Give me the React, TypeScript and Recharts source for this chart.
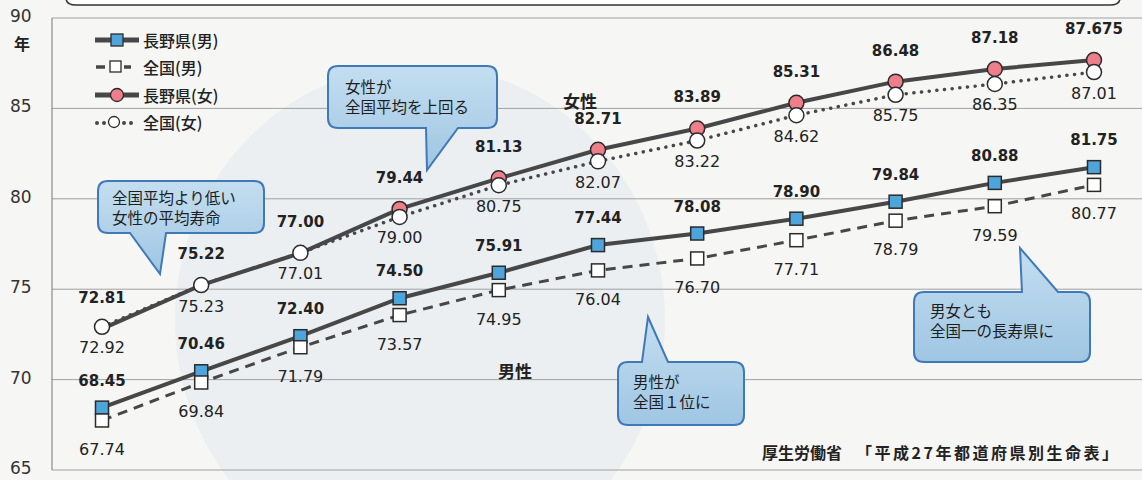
import React from 'react';
import { LineChart, Line, XAxis, YAxis, CartesianGrid, Legend, LabelList } from 'recharts';

// 都道府県別生命表 (5年ごと)
const years = ['1965', '1970', '1975', '1980', '1985', '1990', '1995', '2000', '2005', '2010', '2015'];
const naganoMale = [68.45, 70.46, 72.4, 74.5, 75.91, 77.44, 78.08, 78.9, 79.84, 80.88, 81.75];
const nationalMale = [67.74, 69.84, 71.79, 73.57, 74.95, 76.04, 76.7, 77.71, 78.79, 79.59, 80.77];
const naganoFemale = [72.81, 75.22, 77.0, 79.44, 81.13, 82.71, 83.89, 85.31, 86.48, 87.18, 87.675];
const nationalFemale = [72.92, 75.23, 77.01, 79.0, 80.75, 82.07, 83.22, 84.62, 85.75, 86.35, 87.01];
const yTicks = [65, 70, 75, 80, 85, 90];

const seriesNames = {
  naganoMale: '長野県(男)',
  nationalMale: '全国(男)',
  naganoFemale: '長野県(女)',
  nationalFemale: '全国(女)',
};
const legendOrder = ['naganoMale', 'nationalMale', 'naganoFemale', 'nationalFemale'];

const data = years.map((year, i) => ({
  year,
  naganoMale: naganoMale[i],
  nationalMale: nationalMale[i],
  naganoFemale: naganoFemale[i],
  nationalFemale: nationalFemale[i],
}));

const NUM_FONT = '"DejaVu Sans", Verdana, sans-serif';
const JP_FONT = '"Noto Sans CJK JP", "Noto Sans", sans-serif';
const LINE_DARK = '#474747';
const BLUE = '#4ea5dc';
const PINK = '#ee7f8a';

// 2桁で表示、それ以上の桁はそのまま
const fmt = (v: number) => {
  const c = v * 100;
  return Math.abs(c - Math.round(c)) < 1e-6 ? v.toFixed(2) : String(v);
};

const makeLabel = (dy: number, bold: boolean) => (props: any) => {
  const { x, y, value, index } = props;
  if (x == null || y == null) return null;
  return (
    <text
      key={`lbl-${index}`}
      x={x}
      y={y + dy}
      textAnchor="middle"
      dominantBaseline="central"
      fontFamily={NUM_FONT}
      fontSize={bold ? 15 : 16}
      fontWeight={bold ? 'bold' : 'normal'}
      fill="#222"
    >
      {fmt(value)}
    </text>
  );
};

const squareDot = (fill: string) => (props: any) => {
  const { cx, cy, index } = props;
  if (cx == null || cy == null) return <g key={`sq-${index}`} />;
  return (
    <rect key={`sq-${index}`} x={cx - 6.5} y={cy - 6.5} width={13} height={13} fill={fill} stroke="#2b2b2b" strokeWidth={1.5} />
  );
};

// 最初の3点は全国(女)の白丸に隠れている
const pinkFrom = 3;
const circleDot = (fill: string, from = 0) => (props: any) => {
  const { cx, cy, index } = props;
  if (cx == null || cy == null || index < from) return <g key={`ci-${index}`} />;
  return <circle key={`ci-${index}`} cx={cx} cy={cy} r={7.5} fill={fill} stroke="#2b2b2b" strokeWidth={1.5} />;
};

const YTick = (props: any) => {
  const { y, payload } = props;
  return (
    <text x={10} y={y - 2} dominantBaseline="central" fontFamily={NUM_FONT} fontSize={17} fill="#333">
      {payload.value}
    </text>
  );
};

const legendIcon = (key: string) => {
  if (key === 'naganoMale')
    return (
      <>
        <line x1={2} y1={10} x2={46} y2={10} stroke={LINE_DARK} strokeWidth={5} />
        <rect x={18} y={4} width={12} height={12} fill={BLUE} stroke="#2b2b2b" strokeWidth={1.3} />
      </>
    );
  if (key === 'nationalMale')
    return (
      <>
        <line x1={3} y1={10} x2={12} y2={10} stroke={LINE_DARK} strokeWidth={3.5} />
        <rect x={17} y={4} width={11} height={11} fill="#fff" stroke="#2b2b2b" strokeWidth={1.3} />
        <line x1={31} y1={10} x2={38} y2={10} stroke={LINE_DARK} strokeWidth={3.5} />
      </>
    );
  if (key === 'naganoFemale')
    return (
      <>
        <line x1={2} y1={10} x2={46} y2={10} stroke={LINE_DARK} strokeWidth={5} />
        <circle cx={24} cy={10} r={6.5} fill={PINK} stroke="#2b2b2b" strokeWidth={1.3} />
      </>
    );
  return (
    <>
      <circle cx={4} cy={11} r={2} fill={LINE_DARK} />
      <circle cx={11} cy={11} r={2} fill={LINE_DARK} />
      <circle cx={21} cy={10} r={5.5} fill="#fff" stroke="#2b2b2b" strokeWidth={1.3} />
      <circle cx={31} cy={11} r={2} fill={LINE_DARK} />
      <circle cx={38} cy={11} r={2} fill={LINE_DARK} />
    </>
  );
};

const renderLegend = (props: any) => {
  const payload = [...(props.payload || [])].sort(
    (a: any, b: any) => legendOrder.indexOf(a.dataKey) - legendOrder.indexOf(b.dataKey)
  );
  return (
    <div>
      {payload.map((entry: any) => (
        <div key={entry.dataKey} style={{ display: 'flex', alignItems: 'center', height: 27.5 }}>
          <svg width={48} height={20} style={{ marginRight: 2 }}>
            {legendIcon(entry.dataKey)}
          </svg>
          <span style={{ fontFamily: JP_FONT, fontSize: 16, fontWeight: 500, color: '#222' }}>{entry.value}</span>
        </div>
      ))}
    </div>
  );
};

// 吹き出し
const callout = (
  x: number,
  y: number,
  w: number,
  h: number,
  side: 'top' | 'bottom',
  t1: number,
  t2: number,
  tipX: number,
  tipY: number
) => {
  const r = 10;
  const b = y + h;
  const rgt = x + w;
  if (side === 'bottom') {
    return `M${x + r},${y} H${rgt - r} Q${rgt},${y} ${rgt},${y + r} V${b - r} Q${rgt},${b} ${rgt - r},${b} H${t2} L${tipX},${tipY} L${t1},${b} H${x + r} Q${x},${b} ${x},${b - r} V${y + r} Q${x},${y} ${x + r},${y} Z`;
  }
  return `M${x + r},${y} H${t1} L${tipX},${tipY} L${t2},${y} H${rgt - r} Q${rgt},${y} ${rgt},${y + r} V${b - r} Q${rgt},${b} ${rgt - r},${b} H${x + r} Q${x},${b} ${x},${b - r} V${y + r} Q${x},${y} ${x + r},${y} Z`;
};

const bubbles = [
  { d: callout(98, 181, 166, 52, 'bottom', 130, 166, 160, 274), lines: ['全国平均より低い', '女性の平均寿命'], tx: 112, ty: 197 },
  { d: callout(328, 66, 169, 62, 'bottom', 426, 458, 427, 170), lines: ['女性が', '全国平均を上回る'], tx: 345, ty: 86 },
  { d: callout(618, 362, 126, 63, 'top', 642, 668, 648, 317), lines: ['男性が', '全国１位に'], tx: 633, ty: 381 },
  { d: callout(914, 292, 176, 70, 'top', 1022, 1058, 1020, 248), lines: ['男女とも', '全国一の長寿県に'], tx: 930, ty: 310 },
];

export default function App() {
  return (
    <div style={{ position: 'absolute', left: 0, top: 0, width: 1142, height: 480, background: '#f6f6f4', overflow: 'hidden' }}>
      <svg width={1142} height={480} style={{ position: 'absolute', left: 0, top: 0 }}>
        <ellipse cx={420} cy={320} rx={245} ry={255} fill="#ebeff2" />
        <path d="M66,-4 V-2 Q66,5 76,5 H1110 Q1120,5 1120,-2 V-4" fill="#fff" stroke="#333" strokeWidth={1.5} />
      </svg>
      <LineChart
        width={1142}
        height={480}
        data={data}
        margin={{ top: 18, right: 0, bottom: 10, left: 0 }}
        style={{ position: 'absolute', left: 0, top: 0 }}
      >
        <CartesianGrid vertical={false} stroke="#a0a0a0" strokeWidth={1} />
        <XAxis dataKey="year" hide padding={{ left: 50, right: 48 }} />
        <YAxis
          domain={[65, 90]}
          ticks={yTicks}
          width={52}
          tick={<YTick />}
          tickLine={false}
          axisLine={{ stroke: '#777', strokeWidth: 1 }}
          allowDataOverflow
        />
        <Legend
          layout="horizontal"
          verticalAlign="middle"
          align="center"
          content={renderLegend}
          wrapperStyle={{ left: 93, top: 26, width: 200, height: 115 }}
        />
        <Line
          dataKey="naganoMale"
          name={seriesNames.naganoMale}
          stroke={LINE_DARK}
          strokeWidth={4}
          dot={squareDot(BLUE)}
          activeDot={false}
          isAnimationActive={false}
        >
          <LabelList dataKey="naganoMale" content={makeLabel(-27, true)} />
        </Line>
        <Line
          dataKey="nationalMale"
          name={seriesNames.nationalMale}
          stroke={LINE_DARK}
          strokeWidth={3}
          strokeDasharray="10 7"
          dot={squareDot('#fff')}
          activeDot={false}
          isAnimationActive={false}
        >
          <LabelList dataKey="nationalMale" content={makeLabel(29, false)} />
        </Line>
        <Line
          dataKey="naganoFemale"
          name={seriesNames.naganoFemale}
          stroke={LINE_DARK}
          strokeWidth={4}
          dot={circleDot(PINK, pinkFrom)}
          activeDot={false}
          isAnimationActive={false}
        >
          <LabelList dataKey="naganoFemale" content={makeLabel(-31, true)} />
        </Line>
        <Line
          dataKey="nationalFemale"
          name={seriesNames.nationalFemale}
          stroke={LINE_DARK}
          strokeWidth={3.5}
          strokeDasharray="0.1 7.6"
          strokeLinecap="round"
          dot={circleDot('#fff')}
          activeDot={false}
          isAnimationActive={false}
        >
          <LabelList dataKey="nationalFemale" content={makeLabel(21, false)} />
        </Line>
      </LineChart>
      <svg width={1142} height={480} style={{ position: 'absolute', left: 0, top: 0, pointerEvents: 'none' }}>
        <defs>
          <linearGradient id="bubbleFill" x1="0" y1="0" x2="0" y2="1">
            <stop offset="0%" stopColor="#c4def0" />
            <stop offset="100%" stopColor="#9fc6e3" />
          </linearGradient>
        </defs>
        <text x={22} y={43} textAnchor="middle" dominantBaseline="central" fontFamily={JP_FONT} fontSize={16} fontWeight="bold" fill="#222">
          年
        </text>
        {bubbles.map((b, i) => (
          <g key={i}>
            <path d={b.d} fill="url(#bubbleFill)" stroke="#3f79b8" strokeWidth={2} />
            {b.lines.map((t, j) => (
              <text key={j} x={b.tx} y={b.ty + j * 20} dominantBaseline="central" fontFamily={JP_FONT} fontSize={15.5} fill="#1e1e1e">
                {t}
              </text>
            ))}
          </g>
        ))}
        <text x={580} y={100} textAnchor="middle" dominantBaseline="central" fontFamily={JP_FONT} fontSize={17} fontWeight="bold" fill="#222">
          女性
        </text>
        <text x={515} y={370} textAnchor="middle" dominantBaseline="central" fontFamily={JP_FONT} fontSize={17} fontWeight="bold" fill="#222">
          男性
        </text>
        <text x={762} y={452} dominantBaseline="central" fontFamily={JP_FONT} fontSize={16} fontWeight="bold" fill="#222">
          厚生労働省
        </text>
        <text
          x={856}
          y={452}
          dominantBaseline="central"
          fontFamily={JP_FONT}
          fontSize={16}
          fontWeight="bold"
          fill="#222"
          textLength={262}
          lengthAdjust="spacing"
        >
          「平成27年都道府県別生命表」
        </text>
      </svg>
    </div>
  );
}
